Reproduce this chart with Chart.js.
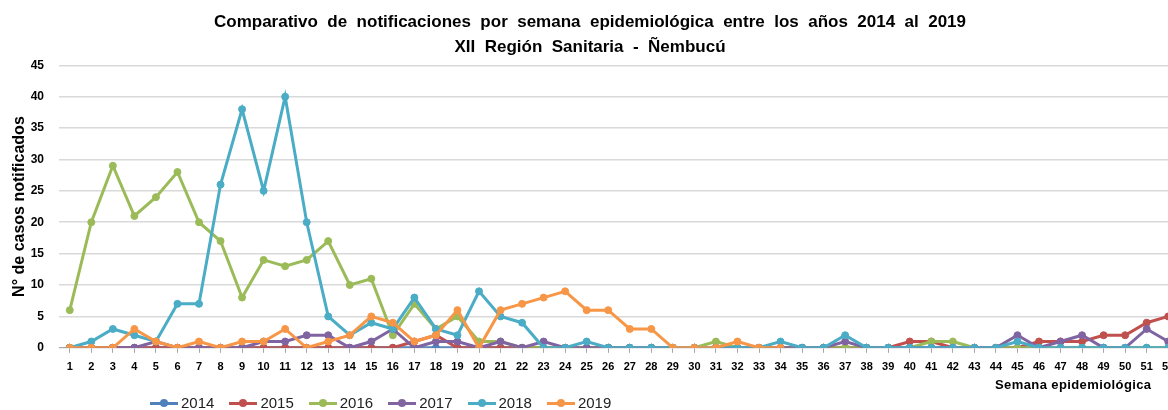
<!DOCTYPE html>
<html>
<head>
<meta charset="utf-8">
<script src="https://cdn.jsdelivr.net/npm/chart.js"></script>
<style>
  html, body { margin: 0; padding: 0; background: #fff; overflow: hidden; }
  #wrap { position: relative; width: 1184px; height: 410px; }
  #xtitle { position: absolute; left: 995px; top: 377px; font: bold 13px 'Liberation Sans', Arial, sans-serif; letter-spacing: 0.4px; color: #000; }
  #legend { position: absolute; left: 150px; top: 394px; font: 15px 'Liberation Sans', Arial, sans-serif; color: #222; display: flex; }
  .item { display: flex; align-items: center; margin-right: 15px; }
  .mk { position: relative; width: 28px; height: 16px; margin-right: 3px; }
  .mk .ln { position: absolute; left: 0; right: 0; top: 7px; height: 3px; }
  .mk .dt { position: absolute; left: 10px; top: 4px; width: 8px; height: 8px; border-radius: 50%; }
</style>
</head>
<body>
<div id="wrap">
  <canvas id="grafico" width="1184" height="410"></canvas>
  <div id="xtitle">Semana epidemiológica</div>
  <div id="legend"></div>
</div>
<script>
var semanas = ['1','2','3','4','5','6','7','8','9','10','11','12','13','14','15','16','17','18','19','20','21','22','23','24','25','26',
               '27','28','29','30','31','32','33','34','35','36','37','38','39','40','41','42','43','44','45','46','47','48','49','50','51','52'];

var anios = ['2014','2015','2016','2017','2018','2019'];
var colori = ['#4F81BD','#C0504D','#9BBB59','#8064A2','#4BACC6','#F79646'];

var casos2014 = [0,0,0,0,0,0,0,0,0,0,0,0,0,0,0,0,0,0,0,0,0,0,0,0,0,0,
                 0,0,0,0,0,0,0,0,0,0,0,0,0,0,0,0,0,0,0,0,0,0,0,0,0,0];
var casos2015 = [0,0,0,0,0,0,0,0,0,0,0,0,0,0,0,0,1,2,0,0,0,0,0,0,0,0,
                 0,0,0,0,0,0,0,0,0,0,0,0,0,1,1,0,0,0,0,1,1,1,2,2,4,5];
var casos2016 = [6,20,29,21,24,28,20,17,8,14,13,14,17,10,11,2,7,3,5,1,1,0,0,0,0,0,
                 0,0,0,0,1,0,0,0,0,0,0,0,0,0,1,1,0,0,0,0,0,0,0,0,0,0];
var casos2017 = [0,0,0,0,1,0,0,0,0,1,1,2,2,0,1,3,0,1,1,0,1,0,1,0,0,0,
                 0,0,0,0,0,0,0,0,0,0,1,0,0,0,0,0,0,0,2,0,1,2,0,0,3,1];
var casos2018 = [0,1,3,2,1,7,7,26,38,25,40,20,5,2,4,3,8,3,2,9,5,4,0,0,1,0,
                 0,0,0,0,0,0,0,1,0,0,2,0,0,0,0,0,0,0,1,0,0,0,0,0,0,0];
var casos2019 = [0,0,0,3,1,0,1,0,1,1,3,0,1,2,5,4,1,2,6,0,6,7,8,9,6,6,
                 3,3,0,0,0,1,0,0];

var serie = [casos2014, casos2015, casos2016, casos2017, casos2018, casos2019];

var datasets = [];
for (var i = 0; i < anios.length; i++) {
    datasets.push({
        label: anios[i],
        data: serie[i],
        borderColor: colori[i],
        backgroundColor: colori[i],
        borderWidth: 3,
        pointRadius: 3.5,
        pointBorderWidth: 1,
        tension: 0,
        order: anios.length - i   // 2019 sopra, come nell'originale
    });
}

var fuente = "'Liberation Sans', Arial, sans-serif";

var ctx = document.getElementById('grafico');
var grafico = new Chart(ctx, {
    type: 'line',
    data: { labels: semanas, datasets: datasets },
    options: {
        responsive: false,
        animation: false,
        layout: { padding: { left: 0, right: 4, top: 0, bottom: 28 } },
        plugins: {
            legend: { display: false },
            tooltip: { enabled: false },
            title: {
                display: true,
                text: ['Comparativo  de  notificaciones  por  semana  epidemiológica  entre  los  años  2014  al  2019',
                       'XII  Región  Sanitaria  -  Ñembucú'],
                color: '#000',
                font: { family: fuente, size: 17, weight: 'bold', lineHeight: 1.45 },
                padding: { top: 10, bottom: 6 }
            }
        },
        scales: {
            x: {
                offset: true,
                grid: { drawOnChartArea: false, drawTicks: true, tickLength: 5, color: '#a6a6a6' },
                border: { color: '#a6a6a6', width: 1 },
                ticks: { autoSkip: false, maxRotation: 0, padding: 8, color: '#000',
                         font: { family: fuente, size: 11, weight: 'bold' } }
            },
            y: {
                min: 0,
                max: 45,
                afterFit: function (scale) { scale.width = 59; },
                ticks: { stepSize: 5, padding: 15, color: '#000',
                         font: { family: fuente, size: 12, weight: 'bold' } },
                grid: { color: '#d9d9d9', lineWidth: 1.5, drawTicks: false },
                border: { display: false },
                title: {
                    display: true,
                    text: 'N° de casos notificados',
                    color: '#000',
                    font: { family: fuente, size: 16, weight: 'bold' },
                    padding: { top: 10, bottom: 0 }
                }
            }
        }
    }
});

// legenda html
var legenda = document.getElementById('legend');
grafico.data.datasets.forEach(function (ds) {
    var item = document.createElement('div');
    item.className = 'item';
    item.innerHTML = '<span class="mk"><span class="ln" style="background:' + ds.borderColor + '"></span>' +
                     '<span class="dt" style="background:' + ds.borderColor + '"></span></span>' + ds.label;
    legenda.appendChild(item);
});
</script>
</body>
</html>
